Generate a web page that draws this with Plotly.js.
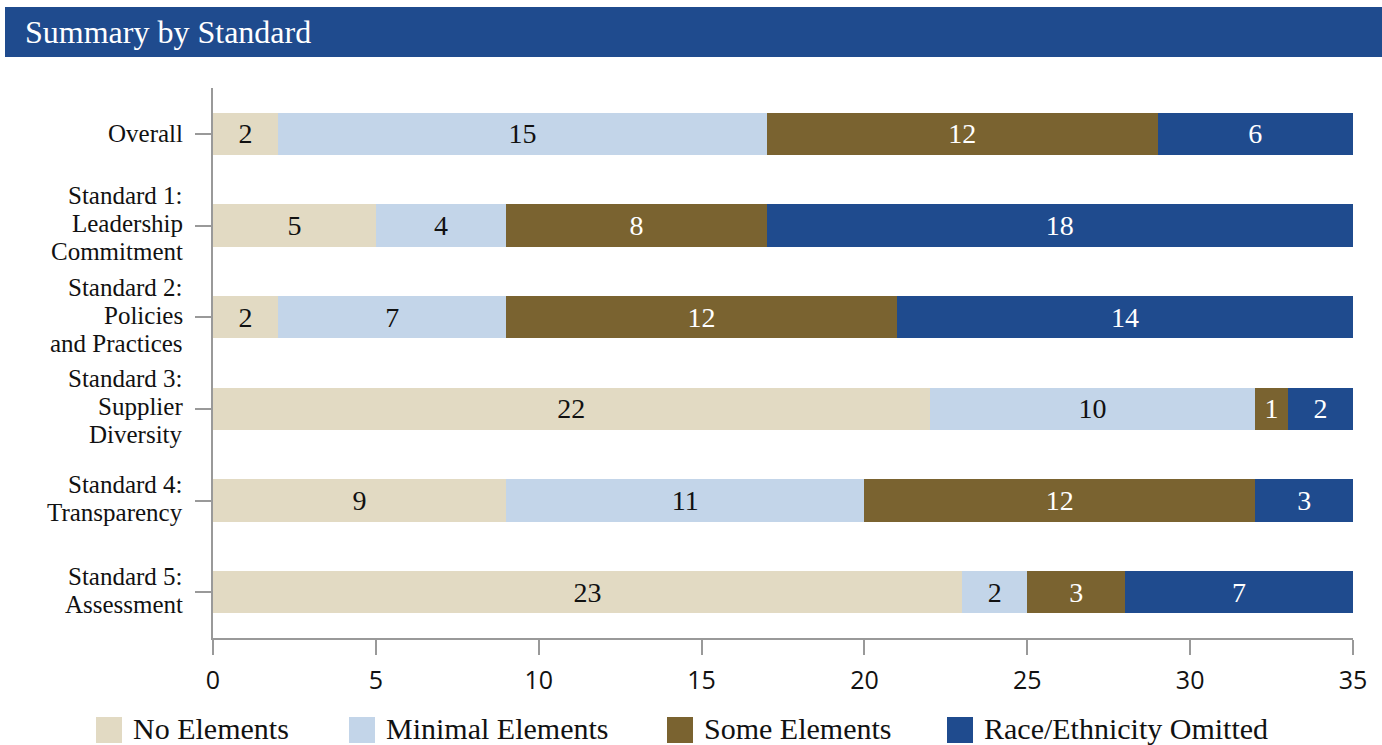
<!DOCTYPE html>
<html><head><meta charset="utf-8">
<script src="https://cdn.plot.ly/plotly-3.0.1.min.js"></script>
<style>html,body{margin:0;padding:0;background:#fff}#chart{width:1382px;height:745px}</style>
</head><body><div id="chart"></div>
<script>
const categories = ["Overall","Standard 1:<br>Leadership<br>Commitment","Standard 2:<br>Policies<br>and Practices","Standard 3:<br>Supplier<br>Diversity","Standard 4:<br>Transparency","Standard 5:<br>Assessment"];
const seriesNames = ["No Elements","Minimal Elements","Some Elements","Race/Ethnicity Omitted"];
const noElements = [2,5,2,22,9,23];
const minimalElements = [15,4,7,10,11,2];
const someElements = [12,8,12,1,12,3];
const raceOmitted = [6,18,14,2,3,7];
const xTicks = [0,5,10,15,20,25,30,35];

const colors = ["#e2dac3","#c3d5e9","#7a6330","#1f4b8e"];
const textColors = ["#111","#111","#fff","#fff"];
const seriesValues = [noElements,minimalElements,someElements,raceOmitted];
const serif = "Liberation Serif, DejaVu Serif, serif";

const L=213,R=29,T=88,B=107,W=1382,H=745;
const pw=W-L-R, ph=H-T-B;
const px2x = p => (p-L)/pw;
const py2y = p => (H-B-p)/ph;

const traces = seriesValues.map((vals,i)=>({
  type:"bar", orientation:"h", name:seriesNames[i],
  y:categories, x:vals, text:vals.map(String),
  textposition:"inside", insidetextanchor:"middle", constraintext:"none",
  textfont:{family:serif,size:28,color:textColors[i]},
  marker:{color:colors[i],line:{width:0}},
  hoverinfo:"x+name", showlegend:false
}));

const shapes=[{type:"rect",xref:"paper",yref:"paper",x0:px2x(5),x1:px2x(1382),y0:py2y(57),y1:py2y(7),fillcolor:"#1f4b8e",line:{width:0},layer:"below"}];
const annotations=[];
const legendX=[96,349,667,947];
seriesNames.forEach((n,i)=>{
  shapes.push({type:"rect",xref:"paper",yref:"paper",x0:px2x(legendX[i]),x1:px2x(legendX[i]+26),y0:py2y(743),y1:py2y(717),fillcolor:colors[i],line:{width:0}});
  annotations.push({xref:"paper",yref:"paper",x:px2x(legendX[i]+35),y:py2y(728),xanchor:"left",yanchor:"middle",text:n,showarrow:false,font:{family:serif,size:30,color:"#111"}});
});
// category labels, line by line with tight spacing
const lineStep=28;
categories.forEach(c=>{
  const lines=c.split("<br>");
  lines.forEach((ln,k)=>{
    annotations.push({xref:"paper",yref:"y",x:px2x(185),y:c,xanchor:"right",yanchor:"middle",text:ln,showarrow:false,
      yshift:((lines.length-1)/2-k)*lineStep+(lines.length>1?2:0),font:{family:serif,size:25,color:"#111"}});
  });
});

const layout={
  width:W,height:H,margin:{l:L,r:R,t:T,b:B},
  paper_bgcolor:"#fff",plot_bgcolor:"#fff",
  barmode:"stack",bargap:0.54,showlegend:false,
  title:{text:"Summary by Standard",x:25/W,xanchor:"left",xref:"container",y:1-32/H,yanchor:"middle",yref:"container",font:{family:serif,size:32,color:"#fff"}},
  xaxis:{range:[0,35],tickvals:xTicks,ticktext:xTicks.map(String),showgrid:false,zeroline:false,showline:true,linecolor:"#999",linewidth:2,ticks:"outside",ticklen:15,tickwidth:2,tickcolor:"#999",ticklabelstandoff:4,tickfont:{family:"Open Sans, sans-serif",size:25,color:"#111"},fixedrange:true},
  yaxis:{type:"category",autorange:"reversed",showgrid:false,zeroline:false,showline:true,linecolor:"#999",linewidth:2,ticks:"outside",ticklen:16,tickwidth:2,tickcolor:"#999",showticklabels:false},
  shapes:shapes,annotations:annotations
};
Plotly.newPlot("chart",traces,layout,{displayModeBar:false,staticPlot:true});
</script></body></html>
